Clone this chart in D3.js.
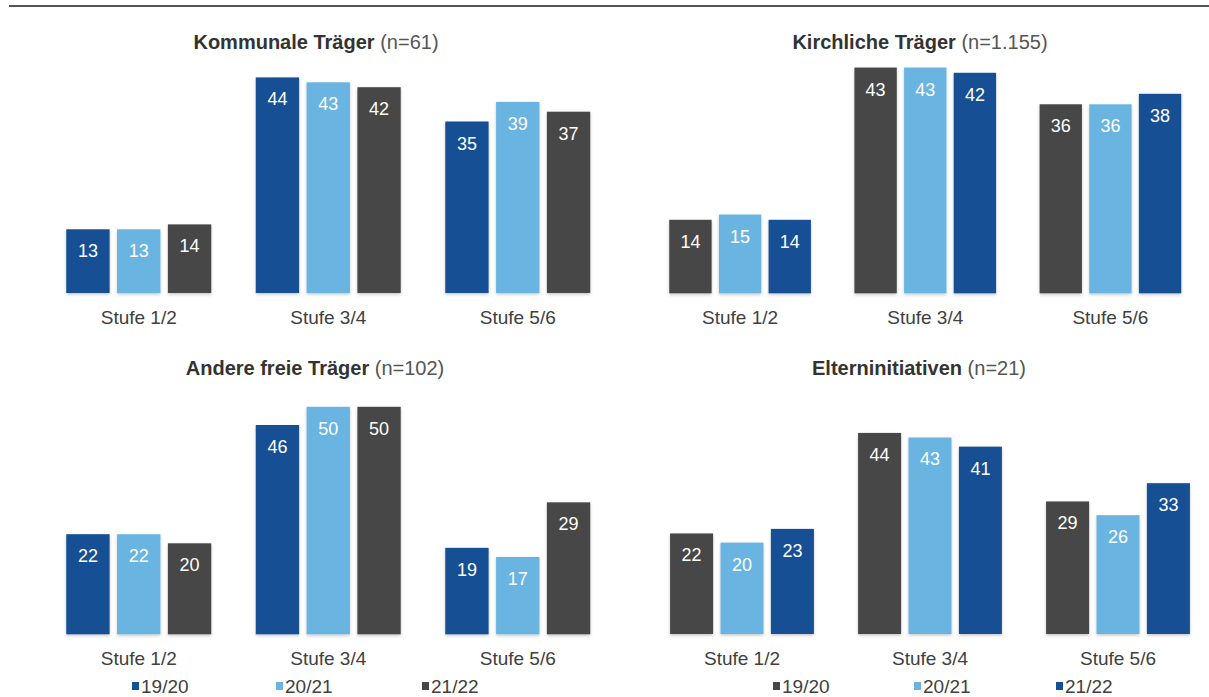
<!DOCTYPE html>
<html>
<head>
<meta charset="utf-8">
<script src="https://cdn.jsdelivr.net/npm/d3@7"></script>
<style>
  html, body { margin: 0; padding: 0; background: #fff; }
  svg { display: block; font-family: "Liberation Sans", Arial, sans-serif; }
</style>
</head>
<body>
<svg id="chart" width="1209" height="697"></svg>
<script>
// Grade levels on the x axis and school years as series
const categories = ["Stufe 1/2", "Stufe 3/4", "Stufe 5/6"];
const schoolYears = ["19/20", "20/21", "21/22"];

// Panel headings
const panelTitles = ["Kommunale Träger", "Kirchliche Träger", "Andere freie Träger", "Elterninitiativen"];
const panelSamples = ["(n=61)", "(n=1.155)", "(n=102)", "(n=21)"];

// Values per panel, one row per school year (19/20, 20/21, 21/22), one entry per grade level
const kommunale = [[13, 44, 35], [13, 43, 39], [14, 42, 37]];
const kirchliche = [[14, 43, 36], [15, 43, 36], [14, 42, 38]];
const andereFreie = [[22, 46, 19], [22, 50, 17], [20, 50, 29]];
const elterninitiativen = [[22, 44, 29], [20, 43, 26], [23, 41, 33]];

const DARK_BLUE = "#154f94", LIGHT_BLUE = "#6bb4e1", GREY = "#474747";

const panels = [
  { data: kommunale,         colors: [DARK_BLUE, LIGHT_BLUE, GREY], xr: [44, 612.5],  base: 293,   yMax: 240 / 4.9,  titleX: 316, titleY: 49,  legend: null },
  { data: kirchliche,        colors: [GREY, LIGHT_BLUE, DARK_BLUE], xr: [647.5, 1203], base: 293.3, yMax: 240 / 5.25, titleX: 920, titleY: 49,  legend: null },
  { data: andereFreie,       colors: [DARK_BLUE, LIGHT_BLUE, GREY], xr: [44, 612.5],  base: 634.3, yMax: 240 / 4.55, titleX: 315, titleY: 375, legend: [132, 276, 422] },
  { data: elterninitiativen, colors: [GREY, LIGHT_BLUE, DARK_BLUE], xr: [648, 1212],   base: 634,   yMax: 240 / 4.57, titleX: 919, titleY: 375, legend: [773, 914, 1056] }
];

const svg = d3.select("#chart");

// soft shadow under the bars
const defs = svg.append("defs");
const f = defs.append("filter").attr("id", "shadow")
  .attr("x", "-20%").attr("y", "-20%").attr("width", "140%").attr("height", "140%");
f.append("feDropShadow").attr("dx", 0).attr("dy", 1.5).attr("stdDeviation", 1.6)
  .attr("flood-color", "#000").attr("flood-opacity", 0.22);

// rule across the top
svg.append("line")
  .attr("x1", 9).attr("x2", 1209).attr("y1", 6).attr("y2", 6)
  .attr("stroke", "#555").attr("stroke-width", 2);

panels.forEach((p, i) => {
  const g = svg.append("g");

  const x0 = d3.scaleBand().domain(categories).range(p.xr)
    .paddingInner(0.235).paddingOuter(0.1175);
  const x1 = d3.scaleBand().domain(schoolYears).range([0, x0.bandwidth()])
    .paddingInner(0.147);
  const y = d3.scaleLinear().domain([0, p.yMax]).range([p.base, p.base - 240]);
  const color = d3.scaleOrdinal().domain(schoolYears).range(p.colors);

  // title: bold name + regular sample size
  const t = g.append("text")
    .attr("x", p.titleX).attr("y", p.titleY)
    .attr("text-anchor", "middle")
    .attr("font-size", 20);
  t.append("tspan").attr("font-weight", "bold").attr("fill", "#333").text(panelTitles[i]);
  t.append("tspan").attr("fill", "#555").text(" " + panelSamples[i]);

  const rows = [];
  categories.forEach((c, ci) => {
    schoolYears.forEach((s, si) => rows.push({ cat: c, year: s, value: p.data[si][ci] }));
  });

  const groups = g.append("g").attr("filter", "url(#shadow)");
  groups.selectAll("rect").data(rows).join("rect")
    .attr("x", d => x0(d.cat) + x1(d.year))
    .attr("width", x1.bandwidth())
    .attr("y", d => y(d.value))
    .attr("height", d => y(0) - y(d.value))
    .attr("fill", d => color(d.year));

  g.selectAll("text.val").data(rows).join("text")
    .attr("class", "val")
    .attr("x", d => x0(d.cat) + x1(d.year) + x1.bandwidth() / 2)
    .attr("y", d => y(d.value) + 28)
    .attr("text-anchor", "middle")
    .attr("font-size", 18)
    .attr("fill", "#fff")
    .text(d => d.value);

  // category axis (labels only)
  const axis = g.append("g")
    .attr("transform", `translate(0,${p.base})`)
    .call(d3.axisBottom(x0).tickSize(0).tickPadding(0));
  axis.select(".domain").remove();
  axis.selectAll("text")
    .attr("y", 31)
    .attr("dy", 0)
    .attr("font-size", 19)
    .attr("font-family", "Liberation Sans, Arial, sans-serif")
    .attr("fill", "#404040");

  if (p.legend) {
    const lg = g.append("g");
    schoolYears.forEach((s, si) => {
      const lx = p.legend[si];
      lg.append("rect").attr("x", lx).attr("y", 682).attr("width", 7).attr("height", 8)
        .attr("fill", color(s));
      lg.append("text").attr("x", lx + 9).attr("y", 693)
        .attr("font-size", 19).attr("fill", "#404040").text(s);
    });
  }
});
</script>
</body>
</html>
